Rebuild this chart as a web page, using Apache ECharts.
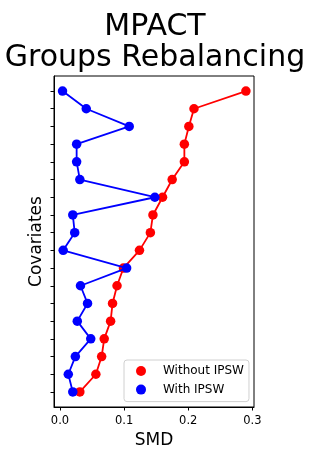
<!DOCTYPE html>
<html>
<head>
<meta charset="utf-8">
<script src="https://cdn.jsdelivr.net/npm/echarts@6/dist/echarts.min.js"></script>
<style>
html,body{margin:0;padding:0;background:#fff;}
#chart{width:310px;height:454px;}
</style>
</head>
<body>
<div id="chart"></div>
<script>
// Covariates listed top to bottom (unlabelled rows)
const rowCount = 18;
const withoutIPSW = [0.290, 0.209, 0.201, 0.194, 0.194, 0.175, 0.160, 0.145, 0.141, 0.124,
                     0.099, 0.089, 0.082, 0.079, 0.069, 0.065, 0.056, 0.031];
const withIPSW    = [0.004, 0.041, 0.108, 0.026, 0.026, 0.031, 0.148, 0.020, 0.023, 0.005,
                     0.104, 0.032, 0.043, 0.027, 0.048, 0.024, 0.013, 0.020];
const xTicks = [0, 0.1, 0.2, 0.3];
const titleText = 'MPACT\nGroups Rebalancing';
const seriesNames = ['Without IPSW', 'With IPSW'];

const FONT = 'DejaVu Sans';
const toPoints = vals => vals.map((v, i) => [v, rowCount - 1 - i]);
const yTicks = Array.from({length: rowCount}, (_, i) => i);

const chart = echarts.init(document.getElementById('chart'), null, {renderer: 'canvas'});
chart.setOption({
  animation: false,
  backgroundColor: '#fff',
  title: {
    text: titleText,
    left: 'center',
    top: 7,
    textStyle: {fontFamily: FONT, fontSize: 30, lineHeight: 31, fontWeight: 'normal', color: '#000'}
  },
  grid: {left: 54, right: 56, top: 76, bottom: 47, show: true, borderColor: '#000', borderWidth: 1, backgroundColor: 'transparent'},
  legend: {
    orient: 'vertical',
    left: 124,
    top: 360,
    padding: [4, 5, 5, 12],
    itemGap: 4.6,
    itemWidth: 10,
    itemHeight: 10,
    icon: 'circle',
    backgroundColor: 'rgba(255,255,255,0.8)',
    borderColor: '#d0d0d0',
    borderWidth: 1,
    borderRadius: 3,
    data: seriesNames,
    textStyle: {fontFamily: FONT, fontSize: 12, lineHeight: 14, color: '#000', padding: [0, 0, 0, 12]}
  },
  xAxis: {
    type: 'value',
    min: -0.0093,
    max: 0.3026,
    name: 'SMD',
    nameLocation: 'middle',
    nameGap: 25,
    nameTextStyle: {fontFamily: FONT, fontSize: 17, color: '#000'},
    axisLine: {show: true, onZero: false, lineStyle: {color: '#000', width: 1}},
    axisTick: {show: true, length: 3.5, lineStyle: {color: '#000'}, customValues: xTicks},
    axisLabel: {fontFamily: FONT, fontSize: 11.5, color: '#000', margin: 8, customValues: xTicks,
                formatter: v => v.toFixed(1)},
    splitLine: {show: false}
  },
  yAxis: {
    type: 'value',
    min: -0.85,
    max: rowCount - 1 + 0.85,
    name: 'Covariates',
    nameLocation: 'middle',
    nameGap: 9,
    nameTextStyle: {fontFamily: FONT, fontSize: 17, color: '#000'},
    axisLine: {show: true, onZero: false, lineStyle: {color: '#000', width: 1}},
    axisTick: {show: true, length: 3.5, lineStyle: {color: '#000'}, customValues: yTicks},
    axisLabel: {show: false},
    splitLine: {show: false}
  },
  series: [
    {
      name: seriesNames[0], type: 'line', data: toPoints(withoutIPSW),
      symbol: 'circle', symbolSize: 9.5, showAllSymbol: true,
      itemStyle: {color: '#ff0000'}, lineStyle: {color: '#ff0000', width: 1.8}, z: 2
    },
    {
      name: seriesNames[1], type: 'line', data: toPoints(withIPSW),
      symbol: 'circle', symbolSize: 9.5, showAllSymbol: true,
      itemStyle: {color: '#0000ff'}, lineStyle: {color: '#0000ff', width: 1.8}, z: 3
    }
  ]
});
</script>
</body>
</html>
